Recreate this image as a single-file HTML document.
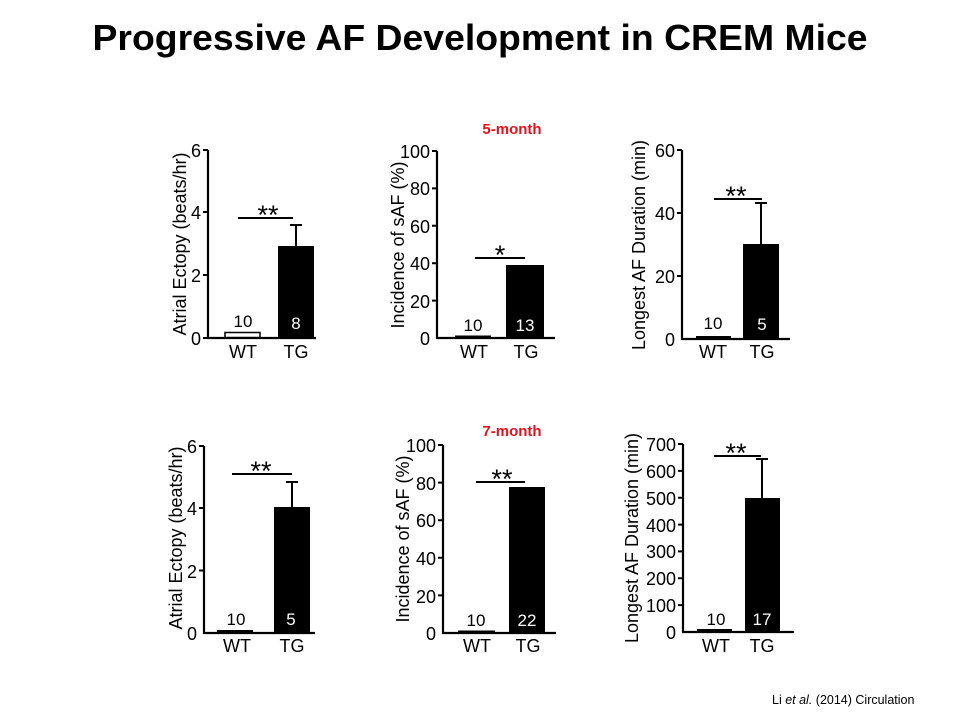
<!DOCTYPE html>
<html><head><meta charset="utf-8"><style>
html,body{margin:0;padding:0;background:#fff;}
svg{display:block;}
text{font-family:"Liberation Sans",Arial,sans-serif;fill:#000;}
.t{font-size:18px;}
.tk{font-size:18px;text-anchor:end;}
.c{text-anchor:middle;}
.n{font-size:17px;text-anchor:middle;}
.w{fill:#fff;}
.s{font-size:27px;text-anchor:middle;}
.ax{stroke:#000;stroke-width:2.2;fill:none;}
.ln{stroke:#000;stroke-width:2;fill:none;}
</style></head><body>
<svg width="960" height="720" viewBox="0 0 960 720">
<text x="480" y="50" font-size="36" font-weight="bold" text-anchor="middle" textLength="775" lengthAdjust="spacingAndGlyphs">Progressive AF Development in CREM Mice</text>

<!-- Panel 1 -->
<g>
<path class="ax" d="M208,150 V338 H316"/>
<path class="ln" d="M203,150H208M203,212H208M203,275H208M203,338H208"/>
<text class="tk" x="201" y="157">6</text><text class="tk" x="201" y="219">4</text><text class="tk" x="201" y="282">2</text><text class="tk" x="201" y="345">0</text>
<rect x="225" y="332.5" width="35" height="5" fill="#fff" stroke="#000" stroke-width="1.5"/>
<rect x="278" y="246" width="36" height="92" fill="#000"/>
<path class="ln" d="M296,246V225M290,225H302"/>
<path class="ln" d="M238,218H293"/>
<text class="s" x="268" y="224">**</text>
<text class="n" x="243" y="327">10</text><text class="n w" x="296" y="329">8</text>
<text class="t c" x="243" y="358">WT</text><text class="t c" x="296" y="358">TG</text>
<text class="t c" transform="translate(186,244) rotate(-90)">Atrial Ectopy (beats/hr)</text>
</g>

<!-- Panel 2 -->
<g>
<text x="512" y="134" font-size="15" font-weight="bold" style="fill:#e8101a" text-anchor="middle">5-month</text>
<path class="ax" d="M437,151 V338 H555"/>
<path class="ln" d="M432,151H437M432,188.4H437M432,225.8H437M432,263.2H437M432,300.6H437"/>
<text class="tk" x="430" y="158">100</text><text class="tk" x="430" y="195">80</text><text class="tk" x="430" y="233">60</text><text class="tk" x="430" y="270">40</text><text class="tk" x="430" y="308">20</text><text class="tk" x="430" y="345">0</text>
<rect x="455" y="335.5" width="36" height="2.5" fill="#000"/>
<rect x="506" y="265" width="38" height="73" fill="#000"/>
<path class="ln" d="M475,258H525"/>
<text class="s" x="500" y="264">*</text>
<text class="n" x="473" y="331">10</text><text class="n w" x="525" y="331">13</text>
<text class="t c" x="474" y="358">WT</text><text class="t c" x="526" y="358">TG</text>
<text class="t c" transform="translate(404,245) rotate(-90)">Incidence of sAF (%)</text>
</g>

<!-- Panel 3 -->
<g>
<path class="ax" d="M682,150 V339 H790"/>
<path class="ln" d="M677,150H682M677,213H682M677,276H682"/>
<text class="tk" x="675" y="157">60</text><text class="tk" x="675" y="220">40</text><text class="tk" x="675" y="283">20</text><text class="tk" x="675" y="346">0</text>
<rect x="696" y="336" width="35" height="3" fill="#000"/>
<rect x="743" y="244" width="36" height="95" fill="#000"/>
<path class="ln" d="M761,244V203M755,203H767"/>
<path class="ln" d="M714,199H762"/>
<text class="s" x="736" y="205">**</text>
<text class="n" x="713" y="329">10</text><text class="n w" x="762" y="330">5</text>
<text class="t c" x="713" y="358">WT</text><text class="t c" x="762" y="358">TG</text>
<text class="t c" transform="translate(645,245) rotate(-90)">Longest AF Duration (min)</text>
</g>

<!-- Panel 4 -->
<g>
<path class="ax" d="M204,446 V633 H315"/>
<path class="ln" d="M199,446H204M199,508H204M199,570.5H204"/>
<text class="tk" x="197" y="453">6</text><text class="tk" x="197" y="515">4</text><text class="tk" x="197" y="578">2</text><text class="tk" x="197" y="640">0</text>
<rect x="217" y="630" width="36" height="3" fill="#000"/>
<rect x="274" y="507" width="36" height="126" fill="#000"/>
<path class="ln" d="M292,507V482M286,482H298"/>
<path class="ln" d="M232,474H292"/>
<text class="s" x="261" y="480">**</text>
<text class="n" x="236" y="625">10</text><text class="n w" x="291" y="625">5</text>
<text class="t c" x="237" y="652">WT</text><text class="t c" x="292" y="652">TG</text>
<text class="t c" transform="translate(182,538) rotate(-90)">Atrial Ectopy (beats/hr)</text>
</g>

<!-- Panel 5 -->
<g>
<text x="512" y="436" font-size="15" font-weight="bold" style="fill:#e8101a" text-anchor="middle">7-month</text>
<path class="ax" d="M443,445 V633 H556"/>
<path class="ln" d="M438,445H443M438,482.6H443M438,520.2H443M438,557.8H443M438,595.4H443"/>
<text class="tk" x="436" y="452">100</text><text class="tk" x="436" y="490">80</text><text class="tk" x="436" y="527">60</text><text class="tk" x="436" y="565">40</text><text class="tk" x="436" y="603">20</text><text class="tk" x="436" y="640">0</text>
<rect x="458" y="630.5" width="37" height="2.5" fill="#000"/>
<rect x="509" y="487" width="36" height="146" fill="#000"/>
<path class="ln" d="M476,482H525"/>
<text class="s" x="502" y="488">**</text>
<text class="n" x="476" y="626">10</text><text class="n w" x="527" y="626">22</text>
<text class="t c" x="477" y="652">WT</text><text class="t c" x="528" y="652">TG</text>
<text class="t c" transform="translate(409,539) rotate(-90)">Incidence of sAF (%)</text>
</g>

<!-- Panel 6 -->
<g>
<path class="ax" d="M683,444 V632 H794"/>
<path class="ln" d="M678,444H683M678,470.9H683M678,497.7H683M678,524.6H683M678,551.4H683M678,578.3H683M678,605.1H683"/>
<text class="tk" x="676" y="451">700</text><text class="tk" x="676" y="478">600</text><text class="tk" x="676" y="505">500</text><text class="tk" x="676" y="532">400</text><text class="tk" x="676" y="558">300</text><text class="tk" x="676" y="585">200</text><text class="tk" x="676" y="612">100</text><text class="tk" x="676" y="639">0</text>
<rect x="697" y="629" width="35" height="3" fill="#000"/>
<rect x="745" y="498" width="35" height="134" fill="#000"/>
<path class="ln" d="M762,498V459M756,459H768"/>
<path class="ln" d="M714,456H761"/>
<text class="s" x="736" y="462">**</text>
<text class="n" x="716" y="625">10</text><text class="n w" x="762" y="625">17</text>
<text class="t c" x="716" y="652">WT</text><text class="t c" x="762" y="652">TG</text>
<text class="t c" transform="translate(638,538) rotate(-90)">Longest AF Duration (min)</text>
</g>

<text x="772" y="704" font-size="12.5">Li <tspan font-style="italic">et al.</tspan> (2014)  Circulation</text>
</svg>
</body></html>
